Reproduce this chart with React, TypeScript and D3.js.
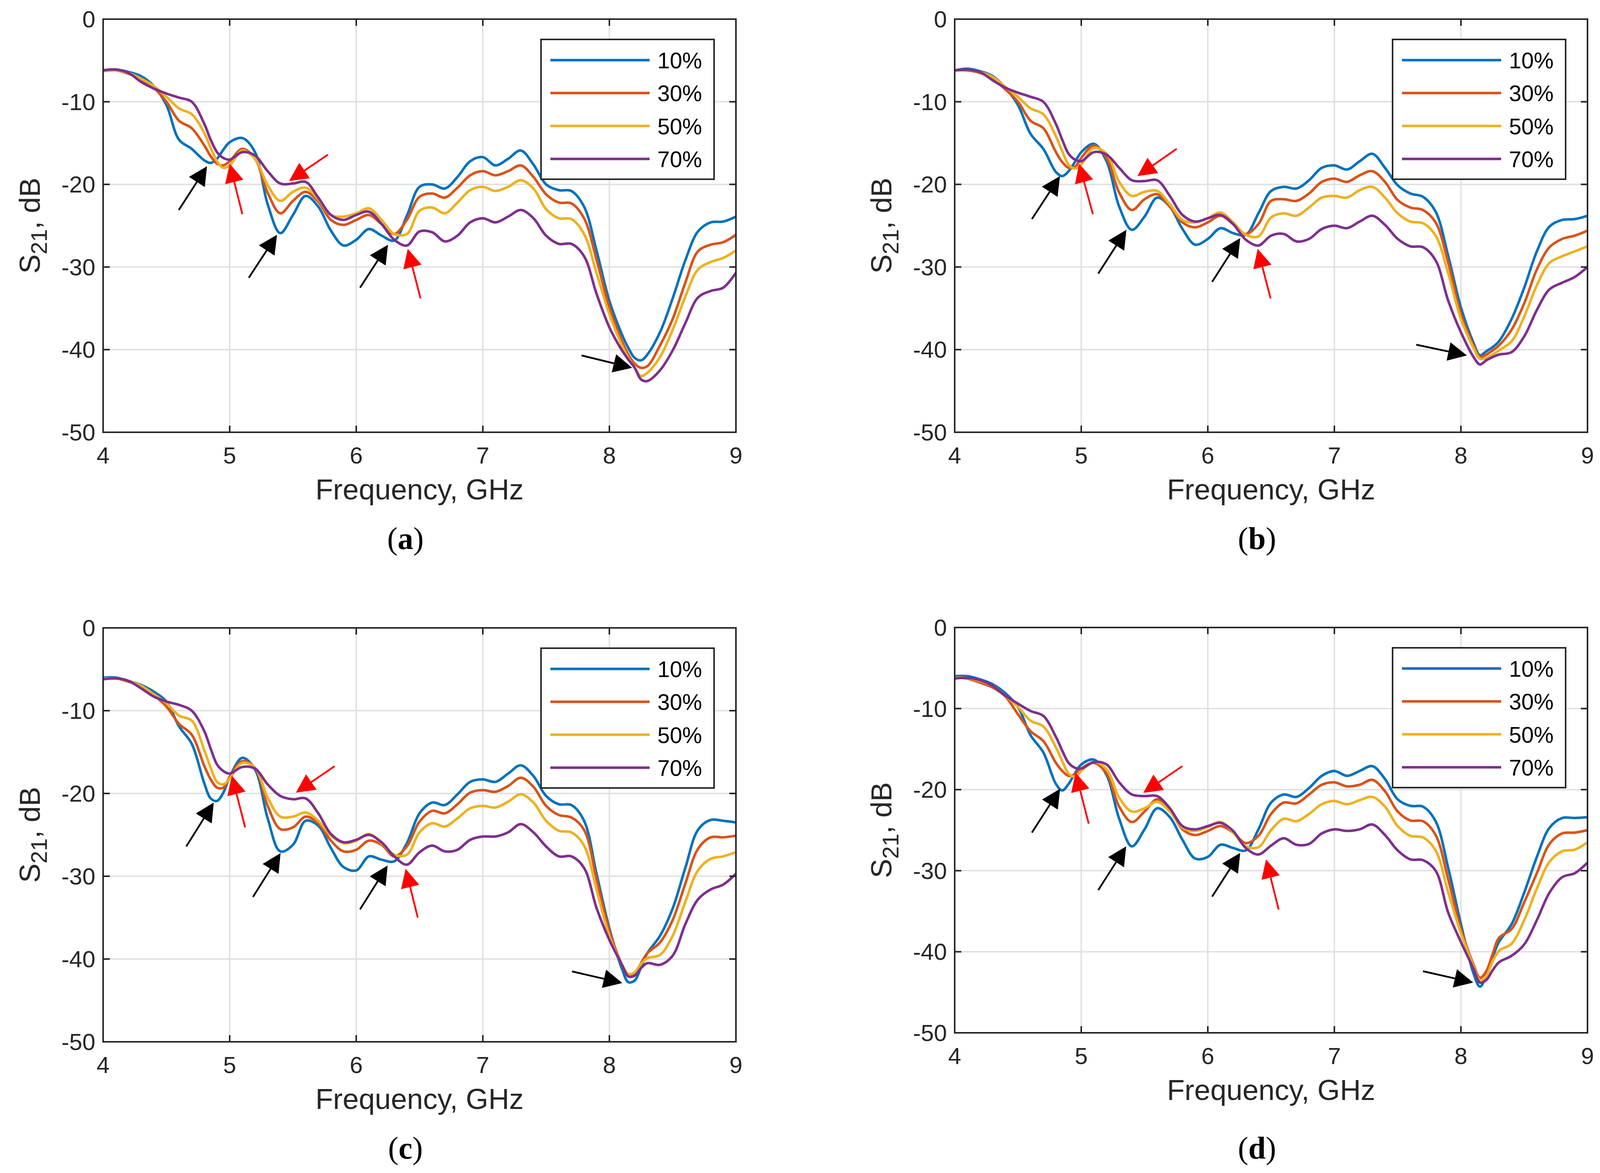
import React, { useRef, useEffect } from 'react';
import * as d3 from 'd3';

// frequency grid (GHz) shared by every curve
const freq = [
  4.0, 4.1, 4.2, 4.3, 4.4, 4.5, 4.6, 4.7, 4.8, 4.85, 4.9, 4.95,
  5.0, 5.1, 5.2, 5.3, 5.4, 5.5, 5.6, 5.7, 5.8, 5.9,
  6.0, 6.1, 6.2, 6.3, 6.4, 6.5, 6.6, 6.7, 6.8, 6.9,
  7.0, 7.1, 7.2, 7.3, 7.4, 7.5, 7.6, 7.7, 7.8, 7.9,
  8.0, 8.1, 8.15, 8.2, 8.25, 8.3, 8.4, 8.5, 8.6, 8.7, 8.8, 8.9, 9.0
];

// (a)
const aBlue = [-6.2, -6.1, -6.4, -6.9, -8.1, -10.4, -14.6, -15.7, -17.1, -17.4, -16.9, -15.8,
  -14.9, -14.4, -16.1, -22.4, -25.9, -23.7, -21.4, -22.7, -25.6, -27.4,
  -26.7, -25.4, -26.2, -26.8, -23.8, -20.3, -20.0, -20.5, -19.1, -17.2,
  -16.7, -17.7, -16.9, -15.9, -17.6, -20.0, -20.7, -20.8, -22.7, -28.1,
  -34.1, -38.2, -39.8, -41.0, -41.3, -40.6, -37.9, -33.8, -29.2, -25.7, -24.6, -24.5, -23.9];
const aRed = [-6.3, -6.2, -6.6, -7.3, -8.3, -10.0, -12.3, -13.2, -15.3, -16.6, -17.5, -17.7,
  -17.2, -15.7, -16.9, -21.0, -23.5, -22.0, -20.9, -22.1, -24.3, -24.9,
  -24.3, -23.7, -24.8, -26.0, -24.3, -21.5, -21.1, -21.6, -20.4, -18.9,
  -18.4, -18.9, -18.4, -17.7, -19.1, -21.2, -22.2, -22.3, -24.1, -29.2,
  -34.9, -39.0, -40.6, -41.7, -42.2, -42.0, -39.5, -36.3, -31.9, -28.1, -27.3, -27.0, -26.1];
const aYellow = [-6.3, -6.2, -6.5, -7.2, -8.1, -9.4, -10.8, -11.5, -13.8, -15.6, -17.2, -18.0,
  -17.7, -15.9, -16.9, -20.1, -22.0, -20.9, -20.4, -21.8, -23.7, -23.9,
  -23.5, -22.9, -24.3, -26.0, -26.0, -23.2, -22.8, -23.5, -22.2, -20.7,
  -20.3, -20.8, -20.3, -19.5, -20.5, -23.0, -24.1, -24.2, -26.0, -30.8,
  -35.7, -39.5, -41.0, -42.2, -43.2, -42.8, -40.9, -37.6, -33.6, -30.3, -29.4, -28.9, -28.0];
const aPurple = [-6.2, -6.1, -6.5, -7.6, -8.4, -9.0, -9.5, -10.0, -12.7, -14.6, -16.1, -16.8,
  -17.0, -16.1, -16.5, -18.4, -19.9, -19.9, -19.7, -21.6, -23.7, -24.3,
  -23.7, -23.3, -24.8, -26.7, -27.4, -25.7, -25.8, -26.9, -26.2, -24.6,
  -24.1, -24.6, -23.9, -23.1, -24.1, -26.2, -27.2, -27.2, -28.7, -33.3,
  -37.3, -40.1, -41.2, -42.2, -43.6, -43.8, -42.5, -40.1, -36.8, -33.7, -32.9, -32.5, -30.7];

// (b)
const bBlue = [-6.2, -6.0, -6.3, -6.9, -8.3, -10.4, -13.9, -15.7, -18.5, -19.0, -18.4, -17.3,
  -16.1, -15.1, -17.2, -22.7, -25.5, -23.9, -21.6, -22.7, -25.4, -27.3,
  -26.6, -25.3, -25.9, -26.1, -23.5, -20.8, -20.3, -20.5, -19.5, -18.0,
  -17.7, -18.2, -17.2, -16.3, -18.0, -20.1, -21.1, -21.5, -23.3, -28.7,
  -34.9, -39.2, -40.7, -40.2, -39.7, -39.0, -36.3, -32.5, -28.1, -25.1, -24.3, -24.2, -23.8];
const bRed = [-6.2, -6.2, -6.5, -7.2, -8.5, -10.0, -12.3, -13.2, -16.1, -17.3, -18.0, -17.9,
  -16.8, -15.3, -16.8, -21.0, -23.1, -21.8, -21.2, -22.7, -24.6, -25.2,
  -24.6, -23.8, -24.8, -26.0, -24.8, -22.0, -21.8, -22.0, -21.1, -19.7,
  -19.3, -19.7, -18.9, -18.4, -19.7, -21.9, -22.8, -23.1, -24.6, -29.5,
  -35.7, -39.5, -40.9, -40.6, -40.1, -39.5, -37.6, -34.4, -30.3, -27.6, -26.6, -26.2, -25.6];
const bYellow = [-6.2, -6.1, -6.4, -7.0, -8.2, -9.4, -10.8, -11.5, -14.2, -16.0, -17.6, -18.1,
  -17.6, -15.6, -16.3, -19.7, -21.4, -20.9, -20.8, -22.4, -24.3, -24.6,
  -24.1, -23.4, -24.6, -26.1, -26.3, -24.0, -23.5, -23.8, -22.8, -21.6,
  -21.4, -21.6, -20.7, -20.3, -21.6, -23.5, -24.5, -24.7, -26.2, -30.8,
  -36.3, -39.8, -41.1, -41.0, -40.6, -40.1, -39.0, -36.0, -32.2, -29.5, -28.7, -28.1, -27.5];
const bPurple = [-6.2, -6.1, -6.4, -7.4, -8.3, -8.9, -9.4, -10.0, -12.7, -14.6, -16.3, -17.0,
  -17.2, -16.1, -16.4, -18.0, -19.5, -19.6, -19.5, -21.4, -23.7, -24.5,
  -24.1, -23.7, -24.8, -26.7, -27.4, -26.2, -26.0, -26.9, -26.6, -25.4,
  -25.0, -25.3, -24.5, -23.8, -24.9, -26.6, -27.5, -27.6, -29.2, -34.1,
  -37.9, -40.9, -41.8, -41.3, -40.9, -40.6, -40.3, -38.4, -35.2, -32.7, -31.9, -31.2, -30.0];

// (c)
const cBlue = [-6.0, -6.0, -6.4, -6.9, -7.7, -8.9, -11.9, -14.0, -18.8, -20.6, -20.9, -19.9,
  -18.0, -15.7, -17.1, -23.0, -27.0, -26.2, -23.3, -23.9, -26.6, -28.9,
  -29.3, -27.6, -28.0, -28.2, -26.0, -22.4, -21.1, -21.4, -20.1, -18.6,
  -18.3, -18.6, -17.6, -16.6, -17.9, -20.3, -21.3, -21.4, -23.3, -29.8,
  -36.3, -41.2, -42.8, -42.6, -41.0, -39.3, -37.2, -33.9, -29.0, -24.4, -23.2, -23.3, -23.5];
const cRed = [-6.2, -6.1, -6.5, -7.0, -8.1, -9.5, -11.6, -12.9, -16.7, -18.3, -19.3, -19.3,
  -18.0, -16.1, -16.9, -21.5, -24.3, -24.1, -22.8, -23.6, -25.7, -27.0,
  -26.8, -25.7, -26.2, -27.6, -26.4, -23.4, -22.1, -22.4, -21.3, -19.9,
  -19.6, -19.8, -19.1, -18.1, -19.2, -21.5, -22.6, -22.9, -24.4, -30.4,
  -36.6, -40.7, -42.0, -41.8, -40.5, -39.3, -38.0, -35.3, -30.9, -26.7, -25.3, -25.3, -25.1];
const cYellow = [-6.1, -6.1, -6.4, -7.0, -8.0, -9.1, -10.6, -11.2, -14.8, -16.9, -18.6, -18.9,
  -18.2, -16.3, -16.9, -20.5, -22.8, -22.8, -22.3, -23.3, -25.1, -26.0,
  -25.7, -24.9, -26.0, -27.4, -27.4, -24.7, -23.6, -24.0, -23.0, -21.8,
  -21.5, -21.7, -21.0, -20.1, -21.1, -23.3, -24.5, -24.7, -26.3, -31.7,
  -37.2, -40.7, -41.8, -41.6, -40.6, -39.9, -39.5, -37.2, -33.1, -29.3, -27.9, -27.6, -27.1];
const cPurple = [-6.2, -6.1, -6.4, -7.3, -8.3, -8.9, -9.3, -10.0, -12.5, -14.6, -16.5, -17.3,
  -17.6, -16.8, -17.0, -18.9, -20.3, -20.7, -20.6, -22.4, -24.9, -25.9,
  -25.6, -25.0, -25.9, -27.6, -28.6, -27.1, -26.3, -27.0, -26.8, -25.6,
  -25.2, -25.2, -24.7, -23.7, -24.7, -26.4, -27.6, -27.6, -29.0, -33.9,
  -37.7, -40.7, -42.1, -42.0, -41.1, -40.5, -40.7, -39.6, -35.8, -32.8, -31.6, -31.0, -29.7];

// (d)
const dBlue = [-6.0, -6.0, -6.4, -7.0, -8.1, -9.8, -13.3, -15.4, -19.3, -20.1, -19.3, -18.0,
  -16.9, -16.3, -18.2, -23.6, -27.0, -24.9, -22.3, -23.4, -26.2, -28.5,
  -28.3, -26.8, -27.2, -27.5, -24.9, -21.6, -20.6, -20.9, -19.8, -18.3,
  -17.7, -18.3, -17.7, -17.1, -18.7, -21.2, -22.0, -22.1, -23.9, -29.7,
  -36.6, -42.7, -44.3, -43.0, -40.7, -38.8, -36.6, -32.7, -28.3, -24.7, -23.5, -23.5, -23.4];
const dRed = [-6.2, -6.3, -6.8, -7.4, -8.5, -10.7, -12.8, -14.0, -16.7, -17.7, -18.3, -18.1,
  -17.4, -16.7, -18.0, -22.1, -24.0, -22.7, -21.2, -22.5, -24.9, -25.6,
  -25.1, -24.5, -25.3, -26.6, -25.7, -23.0, -21.6, -21.7, -20.6, -19.4,
  -19.1, -19.6, -19.4, -18.8, -20.2, -22.7, -23.8, -23.9, -25.6, -31.1,
  -37.2, -41.6, -43.2, -42.4, -40.3, -38.3, -37.2, -33.9, -30.3, -26.7, -25.4, -25.3, -25.0];
const dYellow = [-6.2, -6.2, -6.6, -7.2, -8.4, -9.8, -11.5, -12.2, -14.8, -16.5, -18.0, -18.4,
  -17.7, -16.6, -17.5, -21.0, -22.7, -22.3, -21.5, -22.7, -24.7, -25.1,
  -24.6, -24.0, -25.3, -27.0, -27.1, -25.0, -23.6, -23.9, -23.0, -21.8,
  -21.4, -21.8, -21.3, -20.9, -22.1, -24.5, -25.7, -25.9, -27.5, -32.7,
  -37.7, -41.8, -43.5, -43.0, -41.2, -39.9, -39.0, -36.1, -32.2, -28.9, -27.6, -27.4, -26.5];
const dPurple = [-6.3, -6.2, -6.5, -7.2, -8.4, -9.4, -10.3, -10.9, -13.5, -15.2, -16.7, -17.3,
  -17.4, -16.6, -16.9, -19.1, -20.6, -20.8, -20.8, -22.3, -24.5, -24.9,
  -24.5, -24.1, -25.1, -27.2, -28.0, -26.9, -26.0, -26.8, -26.7, -25.4,
  -24.9, -25.1, -24.9, -24.3, -25.6, -27.5, -28.6, -28.7, -30.0, -35.2,
  -38.8, -42.1, -43.8, -43.5, -42.3, -41.3, -40.5, -39.1, -36.1, -32.7, -30.8, -30.3, -29.0];

// annotation arrows: [tail f, tail dB, tip f, tip dB, colour]
const arrowsA = [
  [4.598, -23.1, 4.821, -17.8, 'k'], [5.10, -23.6, 5.0, -17.5, 'r'], [5.776, -16.4, 5.469, -19.6, 'r'],
  [5.151, -31.3, 5.374, -26.1, 'k'], [6.03, -32.5, 6.251, -27.3, 'k'], [6.508, -33.8, 6.407, -27.8, 'r'],
  [7.78, -40.7, 8.18, -42.2, 'k']
];
const arrowsB = [
  [4.61, -24.2, 4.832, -19.0, 'k'], [5.092, -23.6, 4.983, -17.5, 'r'], [5.754, -15.7, 5.444, -19.0, 'r'],
  [5.134, -30.8, 5.357, -25.5, 'k'], [6.034, -31.8, 6.256, -26.5, 'k'], [6.496, -33.8, 6.394, -27.8, 'r'],
  [7.647, -39.4, 8.047, -40.7, 'k']
];
const arrowsC = [
  [4.657, -26.4, 4.874, -21.1, 'k'], [5.122, -24.1, 5.017, -17.85, 'r'], [5.829, -16.7, 5.523, -19.9, 'r'],
  [5.184, -32.5, 5.402, -27.2, 'k'], [6.03, -34.0, 6.248, -28.7, 'k'], [6.486, -35.0, 6.39, -29.1, 'r'],
  [7.705, -41.5, 8.102, -42.9, 'k']
];
const arrowsD = [
  [4.61, -25.3, 4.833, -19.9, 'k'], [5.059, -24.2, 4.955, -17.9, 'r'], [5.799, -17.1, 5.49, -20.4, 'r'],
  [5.134, -32.4, 5.355, -27.0, 'k'], [6.034, -33.2, 6.256, -27.8, 'k'], [6.56, -34.8, 6.46, -28.6, 'r'],
  [7.70, -42.4, 8.097, -43.8, 'k']
];

const legendLabels = ['10%', '30%', '50%', '70%'];
const xTicks = [4, 5, 6, 7, 8, 9];
const yTicks = [0, -10, -20, -30, -40, -50];

const colors = ['#0072BD', '#D95319', '#EDB120', '#7E2F8E'];
const axisColor = '#262626';
const gridColor = '#dfdfdf';
const sans = '"Liberation Sans", Arial, Helvetica, sans-serif';
const serif = '"Liberation Serif", "Times New Roman", serif';

const panels = [
  { id: 'a', series: [aBlue, aRed, aYellow, aPurple], arrows: arrowsA, left: 264, right: 1884, top: 49, bottom: 1107, capY: 1406 },
  { id: 'b', series: [bBlue, bRed, bYellow, bPurple], arrows: arrowsB, left: 2444, right: 4064, top: 49, bottom: 1107, capY: 1406 },
  { id: 'c', series: [cBlue, cRed, cYellow, cPurple], arrows: arrowsC, left: 264, right: 1884, top: 1608, bottom: 2668, capY: 2967 },
  { id: 'd', series: [dBlue, dRed, dYellow, dPurple], arrows: arrowsD, left: 2444, right: 4064, top: 1607, bottom: 2645, capY: 2967 }
];

function drawPanel(root: any, p: any) {
  const x = d3.scaleLinear().domain([4, 9]).range([p.left, p.right]);
  const y = d3.scaleLinear().domain([-50, 0]).range([p.bottom, p.top]);
  const g = root.append('g');
  const tick = 17;

  // grid
  g.selectAll('.gx').data(xTicks.slice(1, -1)).join('line')
    .attr('x1', d => x(d)).attr('x2', d => x(d))
    .attr('y1', p.top).attr('y2', p.bottom)
    .attr('stroke', gridColor).attr('stroke-width', 3.5);
  g.selectAll('.gy').data(yTicks.slice(1, -1)).join('line')
    .attr('x1', p.left).attr('x2', p.right)
    .attr('y1', d => y(d)).attr('y2', d => y(d))
    .attr('stroke', gridColor).attr('stroke-width', 3.5);

  // curves
  const line = d3.line<number>()
    .x((_, i) => x(freq[i]))
    .y(d => y(d))
    .curve(d3.curveCatmullRom.alpha(0.5));
  p.series.forEach((s: number[], i: number) => {
    g.append('path')
      .attr('d', line(s))
      .attr('fill', 'none')
      .attr('stroke', colors[i])
      .attr('stroke-width', 6.5)
      .attr('stroke-linejoin', 'round');
  });

  // box + inward ticks on all sides
  g.append('rect')
    .attr('x', p.left).attr('y', p.top)
    .attr('width', p.right - p.left).attr('height', p.bottom - p.top)
    .attr('fill', 'none').attr('stroke', axisColor).attr('stroke-width', 4);
  xTicks.forEach(t => {
    g.append('line').attr('x1', x(t)).attr('x2', x(t)).attr('y1', p.bottom).attr('y2', p.bottom - tick)
      .attr('stroke', axisColor).attr('stroke-width', 4);
    g.append('line').attr('x1', x(t)).attr('x2', x(t)).attr('y1', p.top).attr('y2', p.top + tick)
      .attr('stroke', axisColor).attr('stroke-width', 4);
  });
  yTicks.forEach(t => {
    g.append('line').attr('x1', p.left).attr('x2', p.left + tick).attr('y1', y(t)).attr('y2', y(t))
      .attr('stroke', axisColor).attr('stroke-width', 4);
    g.append('line').attr('x1', p.right).attr('x2', p.right - tick).attr('y1', y(t)).attr('y2', y(t))
      .attr('stroke', axisColor).attr('stroke-width', 4);
  });

  // tick labels
  g.selectAll('.xl').data(xTicks).join('text')
    .attr('x', d => x(d)).attr('y', p.bottom + 80)
    .attr('text-anchor', 'middle')
    .style('font-family', sans).style('font-size', '60px').attr('fill', axisColor)
    .text(d => String(d));
  g.selectAll('.yl').data(yTicks).join('text')
    .attr('x', p.left - 20).attr('y', d => y(d) + 21)
    .attr('text-anchor', 'end')
    .style('font-family', sans).style('font-size', '60px').attr('fill', axisColor)
    .text(d => String(d));

  // axis titles
  g.append('text')
    .attr('x', (p.left + p.right) / 2).attr('y', p.bottom + 172)
    .attr('text-anchor', 'middle')
    .style('font-family', sans).style('font-size', '74px').attr('fill', axisColor)
    .text('Frequency, GHz');
  const yl = g.append('text')
    .attr('transform', `translate(${p.left - 162},${(p.top + p.bottom) / 2}) rotate(-90)`)
    .attr('text-anchor', 'middle')
    .style('font-family', sans).style('font-size', '74px').attr('fill', axisColor);
  yl.append('tspan').text('S');
  yl.append('tspan').attr('dy', 18).style('font-size', '58px').text('21');
  yl.append('tspan').attr('dy', -18).text(', dB');

  // legend
  const lx = p.right - 499;
  const ly = p.top + 52;
  const lg = g.append('g');
  lg.append('rect')
    .attr('x', lx).attr('y', ly).attr('width', 443).attr('height', 358)
    .attr('fill', '#ffffff').attr('stroke', axisColor).attr('stroke-width', 4);
  legendLabels.forEach((lab, i) => {
    const yy = ly + 53 + i * 84.3;
    lg.append('line').attr('x1', lx + 24).attr('x2', lx + 278).attr('y1', yy).attr('y2', yy)
      .attr('stroke', colors[i]).attr('stroke-width', 6.5);
    lg.append('text').attr('x', lx + 298).attr('y', yy + 21)
      .style('font-family', sans).style('font-size', '57px').attr('fill', '#000')
      .text(lab);
  });

  // arrows
  const headLen = 48;
  const headHalf = 24;
  p.arrows.forEach((a: any[]) => {
    const x1 = x(a[0]), y1 = y(a[1]), x2 = x(a[2]), y2 = y(a[3]);
    const col = a[4] === 'r' ? '#ff0000' : '#000000';
    const len = Math.hypot(x2 - x1, y2 - y1);
    const ux = (x2 - x1) / len, uy = (y2 - y1) / len;
    const bx = x2 - ux * headLen, by = y2 - uy * headLen;
    g.append('line').attr('x1', x1).attr('y1', y1).attr('x2', bx + ux * 4).attr('y2', by + uy * 4)
      .attr('stroke', col).attr('stroke-width', 4.5);
    g.append('polygon')
      .attr('points', [[x2, y2], [bx - uy * headHalf, by + ux * headHalf], [bx + uy * headHalf, by - ux * headHalf]]
        .map(q => q.join(',')).join(' '))
      .attr('fill', col);
  });

  // caption
  const cap = g.append('text')
    .attr('x', (p.left + p.right) / 2 - 36).attr('y', p.capY)
    .attr('text-anchor', 'middle')
    .style('font-family', serif).style('font-size', '80px').attr('fill', '#000');
  cap.append('tspan').text('(');
  cap.append('tspan').style('font-weight', 'bold').text(p.id);
  cap.append('tspan').text(')');
}

const App: React.FC = () => {
  const svgRef = useRef<SVGSVGElement | null>(null);

  useEffect(() => {
    const svg = d3.select(svgRef.current);
    svg.selectAll('*').remove();
    svg.append('rect').attr('width', 4106).attr('height', 3004).attr('fill', '#ffffff');
    panels.forEach(p => drawPanel(svg, p));
  }, []);

  return (
    <svg
      ref={svgRef}
      width={4106}
      height={3004}
      style={{ position: 'absolute', left: 0, top: 0, display: 'block' }}
    />
  );
};

export default App;
